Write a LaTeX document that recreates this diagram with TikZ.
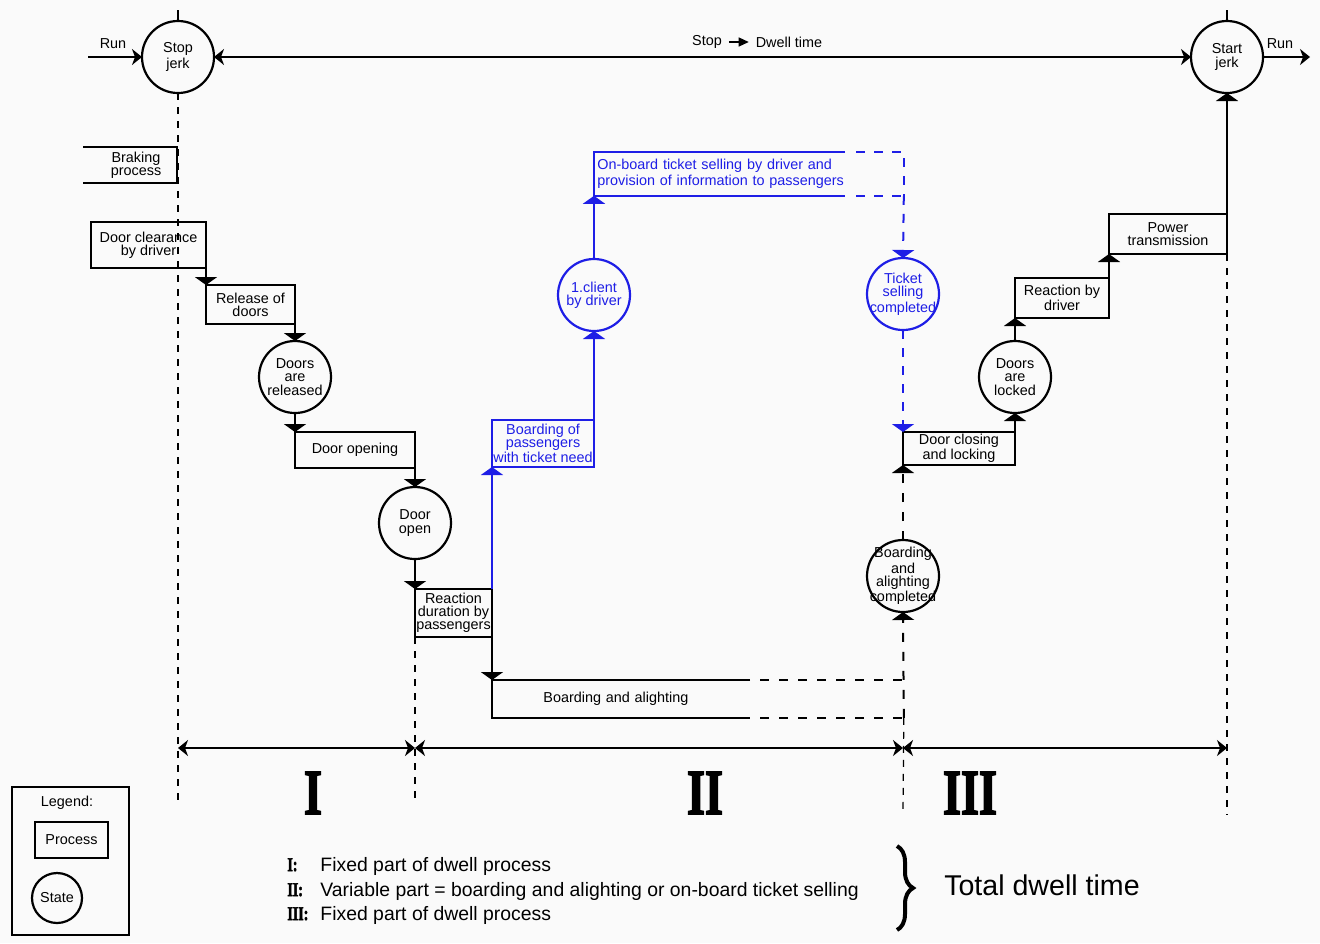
\documentclass[tikz,border=0pt]{standalone}
\usepackage{fontspec}
\setmainfont{Liberation Sans}
\newfontfamily\romfont[BoldFeatures={FakeBold=3}]{Liberation Serif}
\usetikzlibrary{arrows.meta,calc,decorations.pathreplacing}
\definecolor{bblue}{RGB}{30,30,230}
\definecolor{bgc}{RGB}{250,250,250}
\newcommand{\rnum}[1]{\scalebox{0.72}[1]{#1}}
\begin{document}
\begin{tikzpicture}[x=0.5pt,y=-0.5pt,
  every node/.style={font=\fontsize{7.2}{6.6}\selectfont},
  box/.style={draw, line width=1pt, inner sep=0pt, outer sep=0pt, anchor=north west, align=center},
  state/.style={draw, circle, line width=1.1pt, inner sep=0pt, outer sep=0pt, minimum size=36pt},
  stxt/.style={align=center, inner sep=0pt},
  flow/.style={line width=1pt, -{Triangle[width=11pt,length=4pt]}},
  bflow/.style={flow, color=bblue},
  bdash/.style={dash pattern=on 4.5pt off 4.5pt},
  kdash/.style={dash pattern=on 4.5pt off 5pt},
  phase/.style={line width=0.6pt, dash pattern=on 3.5pt off 3.5pt},
  tl/.style={line width=1pt, {Stealth[width=8pt,length=5pt,inset=1.5pt]}-{Stealth[width=8pt,length=5pt,inset=1.5pt]}},
  runarrow/.style={line width=1pt, -{Stealth[width=8pt,length=5pt,inset=1.5pt]}},
  roman/.style={font=\romfont\bfseries\fontsize{32}{32}\selectfont, inner sep=0pt},
  keytxt/.style={font=\fontsize{9.7}{11}\selectfont, anchor=base west, inner sep=0pt},
  keyrom/.style={font=\romfont\bfseries\fontsize{9.7}{11}\selectfont, anchor=base west, inner sep=0pt}
]
\fill[bgc] (0,0) rectangle (1320,943);
\useasboundingbox (0,0) rectangle (1320,943);

% ---------- top row ----------
\node[state, label={[stxt]center:{Stop\\jerk}}] (sj) at (178,57) {};
\node[state, label={[stxt]center:{Start\\jerk}}] (stj) at (1227,57) {};
\coordinate (runin) at (88,57);
\coordinate (runout) at (1310,57);
\coordinate (topA) at (178,10);
\coordinate (topB) at (1227,10);
\draw[runarrow] (runin) -- (sj.west);
\draw[runarrow] (stj.east) -- (runout);
\draw[tl] (sj.east) -- (stj.west);
\draw[line width=1pt] (topA) -- (sj.north);
\draw[line width=1pt] (topB) -- (stj.north);
\node (run1) at (113,44) {Run};
\node (run2) at (1280,44) {Run};
\node (stp) at (707,42) {Stop};
\node (dwt) at (789,42) {Dwell time};
\draw[line width=0.6pt, -{Triangle[width=4.5pt,length=5pt]}] (stp.east) -- (dwt.west);

% ---------- phase I ----------
\node[box, draw=none, minimum width=41pt, minimum height=18pt] (brk) at (95,147) {Braking\\process};
\draw[line width=1pt] ($(brk.north west)+(-12,0)$) -- (brk.north east) -- (brk.south east) -- ($(brk.south west)+(-12,0)$);

\node[box, minimum width=57.5pt, minimum height=23pt] (dc) at (91,222) {Door clearance\\by driver};
\node[box, minimum width=44.5pt, minimum height=19.5pt] (rel) at (206,285) {Release of\\doors};
\node[state, label={[stxt]center:{Doors\\are\\released}}] (dr) at (295,377) {};
\node[box, minimum width=60pt, minimum height=18pt] (dop) at (295,432) {Door opening};
\node[state, label={[stxt]center:{Door\\open}}] (dopen) at (415,523) {};
\node[box, minimum width=38.5pt, minimum height=24pt] (rea) at (415,589) {Reaction\\duration by\\passengers};

\draw[flow] (dc.south east) -- (rel.north west);
\draw[flow] (rel.south east) -- (dr.north);
\draw[flow] (dr.south) -- (dop.north west);
\draw[flow] (dop.south east) -- (dopen.north);
\draw[flow] (dopen.south) -- (rea.north west);

% ---------- phase II: ticket selling (blue) ----------
\node[box, draw=bblue, text=bblue, minimum width=51pt, minimum height=23.5pt] (bp) at (492,420) {Boarding of\\passengers\\with ticket need};
\node[state, draw=bblue, label={[stxt, text=bblue]center:{1.client\\by driver}}] (cl) at (594,295) {};
\node[anchor=north west, inner xsep=1.5pt, inner ysep=0pt, text width=151.5pt, minimum height=21.5pt, align=left, text=bblue] (ob) at (594,152) {On-board ticket selling by driver and\\provision of information to passengers};
\draw[bblue, line width=1pt] ($(ob.north west)+(251,0)$) -- (ob.north west) -- (ob.south west) -- ($(ob.south west)+(251,0)$);
\draw[bblue, line width=1pt, bdash] ($(ob.north west)+(262,0)$) -- (ob.north east) -- (ob.south east);
\draw[bblue, line width=1pt, bdash] ($(ob.south west)+(262,0)$) -- (ob.south east);
\node[state, draw=bblue, label={[stxt, text=bblue]center:{Ticket\\selling\\completed}}] (tsc) at (903,294) {};

\draw[bflow] (rea.north east) -- (bp.south west);
\draw[bflow] (bp.north east) -- (cl.south);
\draw[bflow] (cl.north) -- (ob.south west);
\draw[bflow, bdash] (ob.south east) -- (tsc.north);

% ---------- phase II: boarding and alighting ----------
\node[anchor=north west, inner xsep=25.5pt, inner ysep=0pt, text width=154.5pt, minimum height=18.5pt, align=left] (ba) at (492,680) {Boarding and alighting};
\draw[line width=1pt] ($(ba.north west)+(258,0)$) -- (ba.north west) -- (ba.south west) -- ($(ba.south west)+(258,0)$);
\draw[line width=1pt, kdash] ($(ba.north west)+(268,0)$) -- (ba.north east);
\draw[line width=1pt, kdash] ($(ba.south west)+(268,0)$) -- (ba.south east);
\node[state, label={[stxt]center:{Boarding\\and\\alighting\\completed}}] (bac) at (903,576) {};

\draw[flow] (rea.south east) -- (ba.north west);
\draw[flow, kdash] (ba.south east) -- (bac.south);

% ---------- phase III ----------
\node[box, minimum width=56pt, minimum height=16.5pt] (dcl) at (903,432) {Door closing\\and locking};
\node[state, label={[stxt]center:{Doors\\are\\locked}}] (dl) at (1015,377) {};
\node[box, minimum width=47pt, minimum height=20pt] (rbd) at (1015,278) {Reaction by\\driver};
\node[box, minimum width=59pt, minimum height=20pt] (pt) at (1109,214) {Power\\transmission};

\draw[bflow, bdash] (tsc.south) -- (dcl.north west);
\draw[flow, kdash] (bac.north) -- (dcl.south west);
\draw[flow] (dcl.north east) -- (dl.south);
\draw[flow] (dl.north) -- (rbd.south west);
\draw[flow] (rbd.north east) -- (pt.south west);
\draw[flow] (pt.north east) -- (stj.south);

% ---------- phase markers ----------
\coordinate (e0) at (178,805);
\coordinate (e1) at (415,800);
\coordinate (e2) at (903,812);
\coordinate (e3) at (1227,815);
\draw[phase] (sj.south) -- (e0);
\draw[phase] (rea.south west) -- (e1);
\draw[phase] (ba.south east) -- (e2);
\draw[phase] (pt.south east) -- (e3);

\coordinate (t0) at (178,748);
\coordinate (t1) at (415,748);
\coordinate (t2) at (903,748);
\coordinate (t3) at (1227,748);
\draw[tl] (t0) -- (t1);
\draw[tl] (t1) -- (t2);
\draw[tl] (t2) -- (t3);

\node[roman] (r1) at (313,793) {\rnum{I}};
\node[roman] (r2) at (705,793) {\rnum{II}};
\node[roman] (r3) at (970,793) {\rnum{III}};

% ---------- key ----------
\node[keyrom] (k1) at (287,871) {\rnum{I:}};
\node[keyrom] (k2) at (287,896) {\rnum{II:}};
\node[keyrom] (k3) at (287,920) {\rnum{III:}};
\node[keytxt] (d1) at (320,871) {Fixed part of dwell process};
\node[keytxt] (d2) at (320,896) {Variable part = boarding and alighting or on-board ticket selling};
\node[keytxt] (d3) at (320,920) {Fixed part of dwell process};
\coordinate (brA) at (897,846);
\coordinate (brB) at (897,930);
\draw[line width=2pt, decorate, decoration={brace, amplitude=8pt}] (brA) -- (brB);
\node[font=\fontsize{14.3}{16}\selectfont] (tdt) at (1042,885) {Total dwell time};

% ---------- legend ----------
\node[box, line width=1.2pt, minimum width=58.5pt, minimum height=74pt] (leg) at (12,787) {};
\node (legt) at (67,803) {Legend:};
\node[box, minimum width=36.5pt, minimum height=18pt] (lproc) at (35,822) {Process};
\node[state, minimum size=25pt] (lstate) at (57,898) {State};
\end{tikzpicture}
\end{document}
